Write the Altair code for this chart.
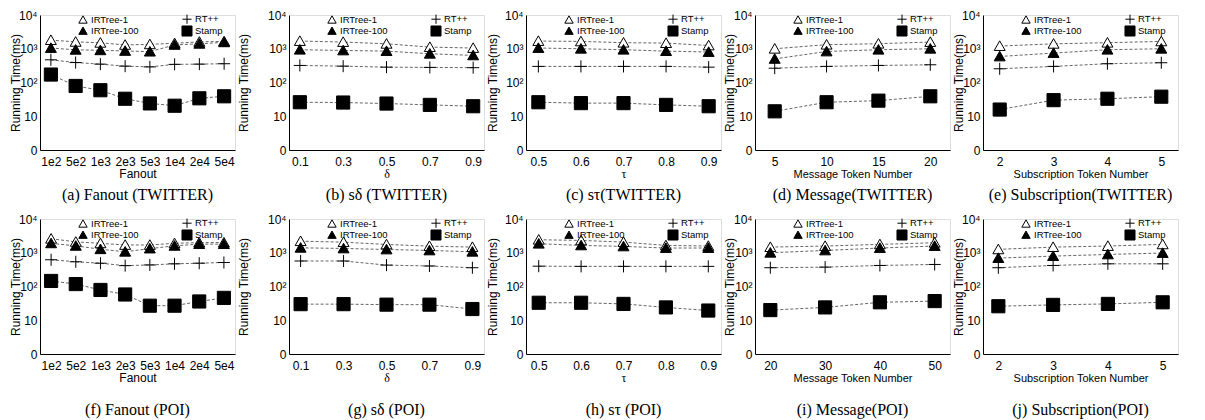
import altair as alt
import pandas as pd

# ---------------- data ----------------
FANOUT = ["1e2", "5e2", "1e3", "2e3", "5e3", "1e4", "2e4", "5e4"]
DELTA = ["0.1", "0.3", "0.5", "0.7", "0.9"]
TAU = ["0.5", "0.6", "0.7", "0.8", "0.9"]
MSG_TW = ["5", "10", "15", "20"]
MSG_POI = ["20", "30", "40", "50"]
SUB = ["2", "3", "4", "5"]

# (a) Fanout TWITTER
A_IRT1 = [1800, 1600, 1500, 1300, 1350, 1450, 1600, 1650]
A_IRT100 = [1050, 930, 900, 860, 820, 1300, 1400, 1550]
A_RT = [470, 390, 350, 305, 290, 345, 350, 360]
A_STAMP = [172, 79, 59, 33, 24, 20.5, 34, 39]
# (b) s_delta TWITTER
B_IRT1 = [1690, 1580, 1400, 1120, 1050]
B_IRT100 = [935, 890, 850, 710, 635]
B_RT = [320, 305, 285, 280, 275]
B_STAMP = [26, 25.5, 23.8, 21.7, 19.8]
# (c) s_tau TWITTER
C_IRT1 = [1690, 1650, 1510, 1470, 1250]
C_IRT100 = [1050, 1000, 935, 850, 800]
C_RT = [300, 300, 300, 300, 285]
C_STAMP = [26, 24.5, 24.5, 21.7, 19.8]
# (d) Message TWITTER
D_IRT1 = [1000, 1320, 1410, 1580]
D_IRT100 = [500, 830, 935, 1000]
D_RT = [265, 300, 320, 335]
D_STAMP = [14, 26, 29, 39]
# (e) Subscription TWITTER
E_IRT1 = [1200, 1400, 1510, 1650]
E_IRT100 = [590, 745, 935, 1000]
E_RT = [255, 300, 360, 385]
E_STAMP = [15.8, 30, 33, 38]
# (f) Fanout POI
F_IRT1 = [2600, 2100, 1900, 1700, 1700, 1900, 2000, 2000]
F_IRT100 = [1900, 1600, 1270, 1070, 1330, 1600, 1800, 1800]
F_RT = [620, 540, 490, 415, 435, 470, 490, 515]
F_STAMP = [146, 118, 79, 58, 27, 27, 36, 46]
# (g) s_delta POI
G_IRT1 = [2200, 2060, 1760, 1570, 1470]
G_IRT100 = [1400, 1340, 1250, 1170, 1070]
G_RT = [570, 570, 430, 405, 360]
G_STAMP = [30, 30, 29, 29, 21.5]
# (h) s_tau POI
H_IRT1 = [2430, 2320, 2070, 1650, 1580]
H_IRT100 = [1850, 1650, 1540, 1380, 1380]
H_RT = [400, 395, 395, 395, 395]
H_STAMP = [33, 33, 30.5, 24, 19.4]
# (i) Message POI
I_IRT1 = [1470, 1580, 1770, 1980]
I_IRT100 = [1000, 1170, 1380, 1580]
I_RT = [360, 375, 420, 450]
I_STAMP = [20, 24, 34, 37]
# (j) Subscription POI
J_IRT1 = [1260, 1470, 1580, 1770]
J_IRT100 = [695, 795, 890, 980]
J_RT = [360, 420, 470, 470]
J_STAMP = [26, 28.5, 30.5, 34]

SERIES = ["IRTree-1", "IRTree-100", "RT++", "Stamp"]
TRI = "M0,-0.95L1,0.8L-1,0.8Z"
PLUS = "M-1.1,0H1.1M0,-1.1V1.1"
SQUARE = "M-1.2,-1.2H1.2V1.2H-1.2Z"
SHAPES = [TRI, TRI, PLUS, SQUARE]
FILLS = ["white", "black", "black", "black"]
STROKES = ["black", "black", "black", "black"]

W, H = 195, 135
SANS = "Liberation Sans"
SERIF = "Liberation Serif"

Y_LABELS = ("datum.value == 1 ? '0' : datum.value == 10 ? '10' : "
            "datum.value == 100 ? '10²' : datum.value == 1000 ? '10³' : '10⁴'")


def panel(xlabels, vals, xtitle, caption, pad, extra=0, xtitle_size=12, cap_offset=8):
    rows = []
    for s, v in zip(SERIES, vals):
        for xl, y in zip(xlabels, v):
            rows.append({"x": xl, "y": y, "series": s})
    df = pd.DataFrame(rows)
    base = alt.Chart(df)
    xenc = alt.X(
        "x:N", sort=xlabels,
        scale=alt.Scale(type="point", padding=pad),
        axis=alt.Axis(title=xtitle, labelAngle=0, ticks=False, labelFont=SANS,
                      labelFontSize=12, labelColor="black", labelPadding=6,
                      titleFont=SERIF if len(xtitle) == 1 else SANS,
                      titleFontSize=xtitle_size, titleFontWeight="normal",
                      titleColor="black", titlePadding=1, domainColor="black"),
    )
    yenc = alt.Y(
        "y:Q",
        scale=alt.Scale(type="log", domain=[1, 10000], nice=False),
        axis=alt.Axis(title="Running Time(ms)", values=[1, 10, 100, 1000, 10000],
                      labelExpr=Y_LABELS, ticks=False, grid=False, labelFont=SANS,
                      labelFontSize=12, labelColor="black", labelPadding=3,
                      titleFont=SANS, titleFontSize=12, titleFontWeight="normal",
                      titleColor="black", titlePadding=-4 + extra, domainColor="black"),
    )
    leg = alt.Legend(orient="none", legendX=38, legendY=-1, columns=2, title=None,
                     values=SERIES,
                     labelFont=SANS, labelFontSize=9.5, labelColor="black",
                     symbolSize=70, symbolStrokeColor="black", symbolStrokeWidth=1,
                     rowPadding=-5, columnPadding=40, labelOffset=3)
    lines = base.mark_line(color="#666", strokeDash=[3, 2], strokeWidth=1).encode(
        x=xenc, y=yenc, detail="series:N")
    pts = base.mark_point(filled=False, strokeWidth=1, opacity=1, size=120).encode(
        x=xenc, y=yenc,
        shape=alt.Shape("series:N", scale=alt.Scale(domain=SERIES, range=SHAPES), legend=leg),
        fill=alt.Fill("series:N", scale=alt.Scale(domain=SERIES, range=FILLS), legend=leg),
        stroke=alt.Stroke("series:N", scale=alt.Scale(domain=SERIES, range=STROKES), legend=leg),
    )
    return alt.layer(lines, pts).properties(
        width=W, height=H,
        title=alt.TitleParams(text=caption, orient="bottom", font=SERIF, fontSize=16,
                              fontWeight="normal", anchor="middle", offset=cap_offset,
                              color="black"),
    )


panels = [
    panel(FANOUT, [A_IRT1, A_IRT100, A_RT, A_STAMP], "Fanout", "(a) Fanout (TWITTER)", 0.44),
    panel(DELTA, [B_IRT1, B_IRT100, B_RT, B_STAMP], "δ", "(b) sδ (TWITTER)", 0.25, 21),
    panel(TAU, [C_IRT1, C_IRT100, C_RT, C_STAMP], "τ", "(c) sτ(TWITTER)", 0.29, 9),
    panel(MSG_TW, [D_IRT1, D_IRT100, D_RT, D_STAMP], "Message Token Number", "(d) Message(TWITTER)", 0.38, 1, 11),
    panel(SUB, [E_IRT1, E_IRT100, E_RT, E_STAMP], "Subscription Token Number", "(e) Subscription(TWITTER)", 0.31, 0, 11),
    panel(FANOUT, [F_IRT1, F_IRT100, F_RT, F_STAMP], "Fanout", "(f) Fanout (POI)", 0.45, 0, 12, 19),
    panel(DELTA, [G_IRT1, G_IRT100, G_RT, G_STAMP], "δ", "(g) sδ (POI)", 0.27, 21, 12, 19),
    panel(TAU, [H_IRT1, H_IRT100, H_RT, H_STAMP], "τ", "(h) sτ (POI)", 0.30, 9, 12, 19),
    panel(MSG_POI, [I_IRT1, I_IRT100, I_RT, I_STAMP], "Message Token Number", "(i) Message(POI)", 0.28, 1, 11, 19),
    panel(SUB, [J_IRT1, J_IRT100, J_RT, J_STAMP], "Subscription Token Number", "(j) Subscription(POI)", 0.28, 0, 11, 19),
]

chart = alt.concat(*panels, columns=5, spacing={"row": 8, "column": 0}, align="none").resolve_scale(
    x="independent", y="independent", shape="independent", fill="independent", stroke="independent"
).resolve_legend(shape="independent", fill="independent", stroke="independent").properties(
    padding={"left": 0, "top": 0, "right": 0, "bottom": 0}
).configure_view(stroke="black", strokeWidth=1).configure(background="white")

chart.save("out.html", embed_options={"renderer": "svg", "actions": False})
